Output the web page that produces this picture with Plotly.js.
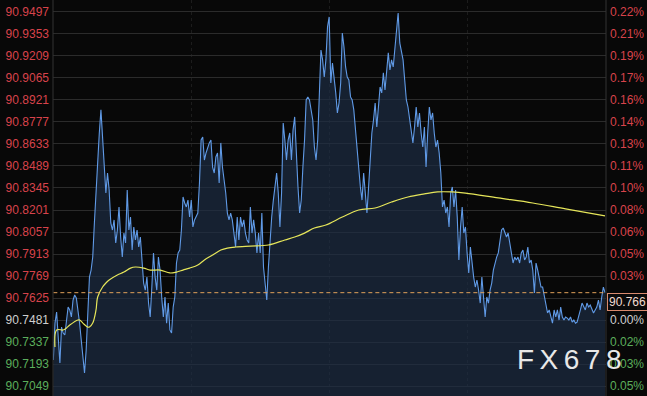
<!DOCTYPE html>
<html>
<head>
<meta charset="utf-8">
<script src="https://cdn.plot.ly/plotly-3.0.1.min.js"></script>
<style>
html,body{margin:0;padding:0;background:#080808;}
#chart{width:647px;height:396px;}
</style>
</head>
<body>
<div id="chart"></div>
<script>
// Reference (previous close) and current price
const baseClose = 90.7481;
const lastPrice = 90.766;

// Left axis tick values / labels
const tickValues = [90.9497, 90.9353, 90.9209, 90.9065, 90.8921, 90.8777, 90.8633, 90.8489, 90.8345,
  90.8201, 90.8057, 90.7913, 90.7769, 90.7625, 90.7481, 90.7337, 90.7193, 90.7049];
const tickLabels = ['90.9497','90.9353','90.9209','90.9065','90.8921','90.8777','90.8633','90.8489','90.8345',
  '90.8201','90.8057','90.7913','90.7769','90.7625','90.7481','90.7337','90.7193','90.7049'];
// Right axis percent labels (the 90.7625 one is hidden behind the current-price box)
const pctLabels = ['0.22%','0.21%','0.19%','0.17%','0.16%','0.14%','0.13%','0.11%','0.10%',
  '0.08%','0.06%','0.05%','0.03%','','0.00%','0.02%','0.03%','0.05%'];

// Intraday price series (one value per time step)
const price = [
90.7219,90.7461,90.7533,90.7370,90.7200,90.7435,90.7396,90.7383,90.7461,90.7566,
90.7547,90.7501,90.7612,90.7645,90.7625,90.7547,90.7461,90.7350,90.7239,90.7134,
90.7285,90.7566,90.7762,90.7808,90.7893,90.8116,90.8332,90.8482,90.8705,90.8856,
90.8659,90.8443,90.8312,90.8443,90.8332,90.8116,90.8070,90.8136,90.7985,90.8070,
90.8221,90.8024,90.7893,90.8050,90.7985,90.8332,90.8070,90.8155,90.7939,90.8090,
90.8005,90.8070,90.7959,90.8024,90.7893,90.7723,90.7677,90.7762,90.7592,90.7501,
90.7697,90.7920,90.7762,90.7677,90.7893,90.7808,90.7632,90.7501,90.7632,90.7461,
90.7592,90.7416,90.7396,90.7566,90.7632,90.7854,90.7920,90.7939,90.8070,90.8286,
90.8247,90.8221,90.8266,90.8155,90.8266,90.8090,90.8136,90.8155,90.8181,90.8378,
90.8659,90.8679,90.8528,90.8574,90.8613,90.8640,90.8659,90.8482,90.8443,90.8548,
90.8574,90.8378,90.8640,90.8482,90.8397,90.8312,90.8181,90.8136,90.8181,90.8136,
90.8050,90.7959,90.8155,90.8005,90.8155,90.8090,90.8136,90.8050,90.8005,90.7985,
90.8221,90.8050,90.8136,90.8050,90.7920,90.8050,90.7920,90.8181,90.7828,90.7697,
90.7612,90.7828,90.8005,90.8155,90.8266,90.8352,90.8443,90.8312,90.8090,90.8312,
90.8770,90.8659,90.8528,90.8659,90.8705,90.8528,90.8725,90.8810,90.8528,90.8352,
90.8181,90.8266,90.8482,90.8659,90.8921,90.8941,90.8921,90.8856,90.8790,90.8613,
90.8528,90.8659,90.8921,90.9248,90.9183,90.9071,90.9183,90.9399,90.9464,90.9032,
90.9163,90.9071,90.8967,90.8836,90.8901,90.9032,90.9359,90.9268,90.9137,90.9071,
90.9052,90.8941,90.8921,90.8856,90.8725,90.8574,90.8482,90.8352,90.8266,90.8443,
90.8312,90.8181,90.8352,90.8574,90.8705,90.8790,90.8901,90.8744,90.8856,90.9006,
90.8967,90.9098,90.8986,90.9137,90.9229,90.9117,90.9183,90.9137,90.9268,90.9359,
90.9490,90.9294,90.9229,90.9183,90.9052,90.8921,90.8875,90.8790,90.8744,90.8640,
90.8744,90.8875,90.8744,90.8836,90.8705,90.8613,90.8744,90.8482,90.8705,90.8875,
90.8790,90.8836,90.8705,90.8613,90.8659,90.8574,90.8443,90.8221,90.8266,90.8181,
90.8221,90.8090,90.8312,90.8352,90.8221,90.8332,90.8155,90.7874,90.8090,90.8221,
90.8050,90.8090,90.7920,90.7789,90.7959,90.7854,90.7762,90.7697,90.7743,90.7677,
90.7592,90.7762,90.7632,90.7501,90.7632,90.7592,90.7677,90.7723,90.7808,90.7854,
90.7893,90.7920,90.7985,90.8070,90.8083,90.8057,90.8024,90.8050,90.7985,90.7939,
90.7854,90.7893,90.7874,90.7893,90.7854,90.7920,90.7939,90.7874,90.7893,90.7959,
90.7854,90.7874,90.7808,90.7658,90.7854,90.7808,90.7743,90.7697,90.7697,90.7632,
90.7566,90.7527,90.7547,90.7501,90.7461,90.7547,90.7501,90.7547,90.7481,90.7566,
90.7501,90.7481,90.7501,90.7494,90.7481,90.7501,90.7468,90.7481,90.7461,90.7468,
90.7501,90.7547,90.7592,90.7566,90.7547,90.7592,90.7566,90.7579,90.7547,90.7527,
90.7547,90.7566,90.7612,90.7547,90.7632,90.7697,90.7660
];
const steps = price.map((_, i) => i);

// Moving average (time step, value)
const maStep = [1,2,6,8,10,15,16,18,21,22,24,26,27,30,32,34,39,43,47,50,55,59,65,71,75,79,83,88,92,97,
  102,106,111,120,131,141,147,153,159,166,176,186,196,206,216,226,234,243,251,271,292,312,336];
const maValue = [90.7304,90.7416,90.7416,90.7429,90.7448,90.7481,90.7481,90.7461,90.7435,90.7435,
  90.7461,90.7547,90.7632,90.7697,90.7723,90.7743,90.7776,90.7795,90.7821,90.7828,
  90.7821,90.7808,90.7808,90.7789,90.7795,90.7808,90.7821,90.7841,90.7874,90.7906,
  90.7939,90.7952,90.7959,90.7965,90.7972,90.8005,90.8024,90.8050,90.8083,90.8103,
  90.8155,90.8201,90.8214,90.8253,90.8286,90.8306,90.8319,90.8319,90.8312,90.8280,
  90.8247,90.8208,90.8162];

// Quarter-day divisions (time steps)
const quarterSteps = [84, 168, 252];

const RED = '#d8434b', GREEN = '#5cae5c', GRAY = '#cfcfcf';
function colorFor(v) { return Math.abs(v - baseClose) < 1e-6 ? GRAY : (v > baseClose ? RED : GREEN); }
const leftText = tickValues.map((v, i) => '<span style="color:' + colorFor(v) + '">' + tickLabels[i] + '</span>');
const rightText = tickValues.map((v, i) => pctLabels[i] ? '<span style="color:' + colorFor(v) + '">' + pctLabels[i] + '</span>' : '');

const yRange = [90.6984, 90.9575];
const xRange = [-0.2, 336.6];

const traces = [
  {
    x: steps, y: price, type: 'scatter', mode: 'lines',
    line: {color: '#609ae6', width: 1.1},
    fill: 'tozeroy',
    fillcolor: 'rgba(30,46,70,0.68)',
    hoverinfo: 'skip'
  },
  {
    x: maStep, y: maValue, type: 'scatter', mode: 'lines',
    line: {color: '#e6e65a', width: 1.2, shape: 'spline', smoothing: 1},
    hoverinfo: 'skip'
  },
  {
    x: [steps[0], steps[steps.length - 1]], y: [lastPrice, lastPrice], type: 'scatter', mode: 'lines',
    line: {color: '#e0a15a', width: 1, dash: '4px,3px'},
    yaxis: 'y2', hoverinfo: 'skip'
  }
];

const layout = {
  width: 647, height: 396,
  margin: {l: 53, r: 41, t: 0, b: 0, pad: 0},
  paper_bgcolor: '#080808',
  plot_bgcolor: '#080808',
  showlegend: false,
  font: {family: 'Liberation Sans, Arial, sans-serif', size: 12},
  xaxis: {
    range: xRange, showticklabels: false, ticks: '',
    tickmode: 'array', tickvals: quarterSteps,
    showgrid: true, gridcolor: '#1c1c1c', griddash: 'dot', gridwidth: 1,
    zeroline: false, showline: false, fixedrange: true
  },
  yaxis: {
    range: yRange, tickmode: 'array', tickvals: tickValues, ticktext: leftText,
    showgrid: true, gridcolor: '#2b2b2b', gridwidth: 1, zeroline: false,
    ticks: '', ticklabelstandoff: 3, tickfont: {size: 12, color: GRAY},
    showline: false, fixedrange: true
  },
  yaxis2: {
    range: yRange, overlaying: 'y', side: 'right',
    tickmode: 'array', tickvals: tickValues, ticktext: rightText,
    showgrid: false, zeroline: false, ticks: '', ticklabelstandoff: 3,
    tickfont: {size: 12, color: GRAY}, showline: false, fixedrange: true
  },
  shapes: [
    {type: 'line', xref: 'paper', yref: 'paper', x0: 0, x1: 0, y0: 0, y1: 1, line: {color: '#333333', width: 1}},
    {type: 'line', xref: 'paper', yref: 'paper', x0: 1, x1: 1, y0: 0, y1: 1, line: {color: '#333333', width: 1}}
  ],
  annotations: [
    {
      xref: 'paper', yref: 'y2', x: 1, y: lastPrice, xanchor: 'left', yanchor: 'top',
      text: lastPrice.toFixed(3), showarrow: false,
      font: {size: 12, color: '#f2dcd2'},
      bgcolor: '#0a0a0a', bordercolor: '#d98a6e', borderwidth: 1, borderpad: 1,
      xshift: 1
    },
    {
      xref: 'paper', yref: 'paper', x: 0.836, y: 0.091, xanchor: 'left', yanchor: 'middle',
      text: '<span style="letter-spacing:5.5px">FX678</span>', showarrow: false,
      font: {size: 28, color: '#e8e8e8', family: 'Liberation Sans, Arial, sans-serif'}
    }
  ]
};

Plotly.newPlot('chart', traces, layout, {staticPlot: true, displayModeBar: false});
</script>
</body>
</html>
